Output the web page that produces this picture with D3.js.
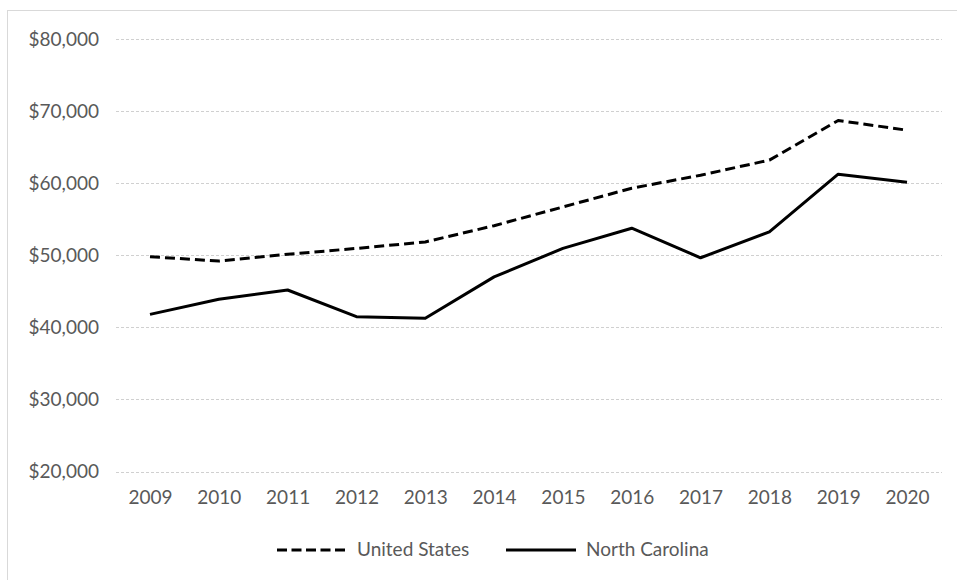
<!DOCTYPE html>
<html>
<head>
<meta charset="utf-8">
<script src="https://cdn.jsdelivr.net/npm/d3@7"></script>
<style>
  html, body { margin: 0; padding: 0; background: #fff; }
  svg { display: block; }
  text { font-family: Lato, "Open Sans", sans-serif; fill: #595959; }
</style>
</head>
<body>
<svg id="chart" width="957" height="580"></svg>
<script>
// Median household income, 2009–2020
const years = ["2009","2010","2011","2012","2013","2014","2015","2016","2017","2018","2019","2020"];
const unitedStates  = [49800, 49200, 50130, 50950, 51850, 54100, 56700, 59300, 61100, 63200, 68700, 67350];
const northCarolina = [41800, 43900, 45180, 41480, 41250, 47000, 50950, 53750, 49650, 53250, 61250, 60120];
const yTicks = [20000, 30000, 40000, 50000, 60000, 70000, 80000];
const seriesNames = ["United States", "North Carolina"];

const FONT_SIZE = 19;
const svg = d3.select("#chart");

// outer chart frame
svg.append("rect")
  .attr("x", 7.5).attr("y", 10.5)
  .attr("width", 1000).attr("height", 1000)
  .attr("fill", "none").attr("stroke", "#d9d9d9").attr("stroke-width", 1);

const plot = { left: 116, right: 942, top: 39, bottom: 471.5 };

const x = d3.scalePoint().domain(years).range([150, 907]);
const y = d3.scaleLinear().domain([20000, 80000]).range([plot.bottom, plot.top]);

// horizontal gridlines
svg.append("g")
  .selectAll("line")
  .data(yTicks)
  .join("line")
  .attr("x1", plot.left).attr("x2", plot.right)
  .attr("y1", d => Math.round(y(d)) + 0.5).attr("y2", d => Math.round(y(d)) + 0.5)
  .attr("stroke", "#d0d0d0").attr("stroke-width", 1)
  .attr("stroke-dasharray", "3,2");

// y axis labels
const yAxis = d3.axisLeft(y).tickValues(yTicks)
  .tickFormat(d => "$" + d3.format(",")(d))
  .tickSize(0).tickPadding(0);
const gy = svg.append("g").attr("transform", "translate(99,0)").call(yAxis);
gy.select(".domain").remove();
gy.selectAll("text").attr("font-size", FONT_SIZE).style("font-family", "Lato, sans-serif").attr("fill", "#505050");

// x axis labels
const xAxis = d3.axisBottom(x).tickSize(0).tickPadding(0);
const gx = svg.append("g").attr("transform", "translate(0,490)").call(xAxis);
gx.select(".domain").remove();
gx.selectAll("text").attr("font-size", FONT_SIZE).style("font-family", "Lato, sans-serif").attr("fill", "#505050");

const line = d3.line().x((d, i) => x(years[i])).y(d => y(d));

svg.append("path")
  .datum(unitedStates)
  .attr("d", line)
  .attr("fill", "none").attr("stroke", "#000").attr("stroke-width", 3)
  .attr("stroke-dasharray", "10,5")
  .attr("stroke-linejoin", "round");

svg.append("path")
  .datum(northCarolina)
  .attr("d", line)
  .attr("fill", "none").attr("stroke", "#000").attr("stroke-width", 3)
  .attr("stroke-linejoin", "round");

// legend
const legend = svg.append("g").attr("transform", "translate(0,550)");
const legendItems = [
  { name: seriesNames[0], x: 277, dash: "10,4.5" },
  { name: seriesNames[1], x: 506, dash: null }
];
legendItems.forEach(item => {
  legend.append("line")
    .attr("x1", item.x).attr("x2", item.x + 70)
    .attr("y1", 0).attr("y2", 0)
    .attr("stroke", "#000").attr("stroke-width", 3)
    .attr("stroke-dasharray", item.dash);
  legend.append("text")
    .attr("x", item.x + 80).attr("y", -1)
    .attr("dy", "0.35em")
    .attr("font-size", FONT_SIZE)
    .attr("fill", "#3a3a3a")
    .text(item.name);
});
</script>
</body>
</html>
